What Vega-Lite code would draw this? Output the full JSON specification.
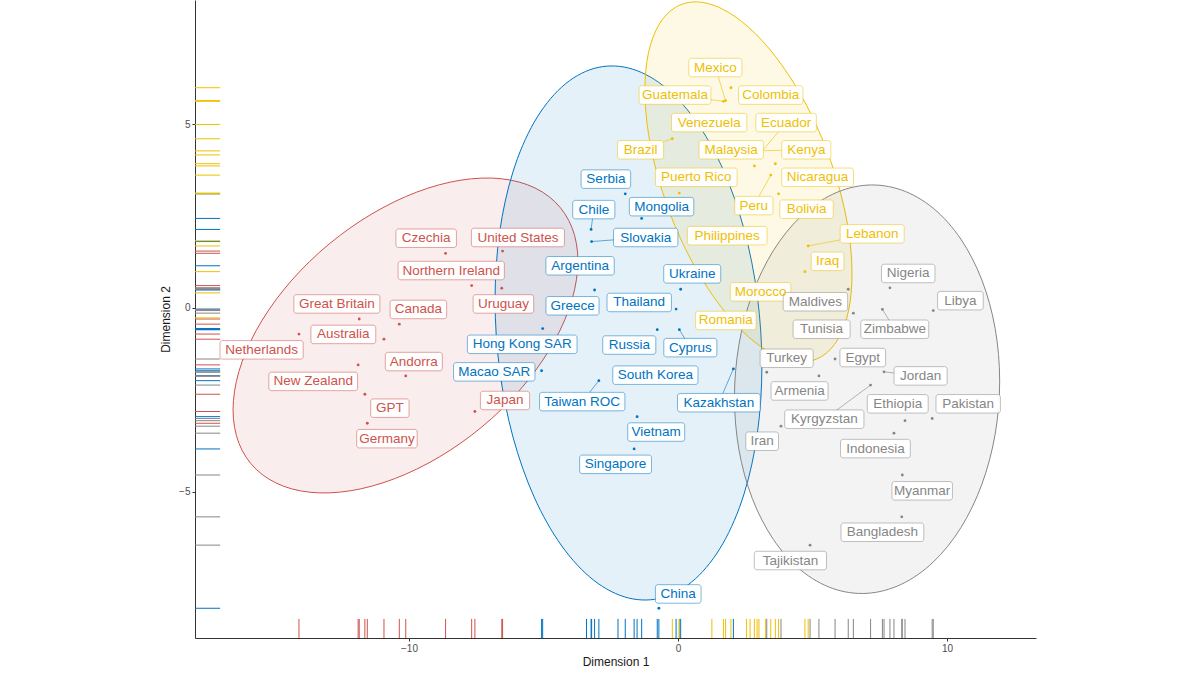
{
  "$schema": "https://vega.github.io/schema/vega-lite/v6.json",
  "width": 841,
  "height": 638,
  "autosize": {"type": "none"},
  "padding": {"left": 195, "top": 0, "right": 164, "bottom": 39},
  "background": "white",
  "config": {
    "view": {"stroke": null},
    "axis": {
      "grid": false,
      "domainColor": "#333333",
      "tickColor": "#333333",
      "tickSize": 3,
      "labelColor": "#4D4D4D",
      "labelFont": "Liberation Sans",
      "labelFontSize": 10,
      "labelPadding": 2,
      "titleFont": "Liberation Sans",
      "titleFontSize": 12,
      "titleFontWeight": "normal",
      "titleColor": "#1A1A1A"
    }
  },
  "datasets": {
    "pts": [
      {"n": "Czechia", "g": "1", "x": -8.64, "y": 1.49, "lx": -9.36, "ly": 1.90},
      {"n": "United States", "g": "1", "x": -6.52, "y": 1.55, "lx": -5.95, "ly": 1.92},
      {"n": "Northern Ireland", "g": "1", "x": -7.67, "y": 0.61, "lx": -8.43, "ly": 1.02},
      {"n": "Uruguay", "g": "1", "x": -6.55, "y": 0.54, "lx": -6.49, "ly": 0.11},
      {"n": "Great Britain", "g": "1", "x": -11.85, "y": -0.30, "lx": -12.68, "ly": 0.11},
      {"n": "Canada", "g": "1", "x": -10.36, "y": -0.44, "lx": -9.65, "ly": -0.04},
      {"n": "Australia", "g": "1", "x": -10.93, "y": -0.85, "lx": -12.44, "ly": -0.72},
      {"n": "Netherlands", "g": "1", "x": -14.09, "y": -0.71, "lx": -15.48, "ly": -1.14},
      {"n": "Andorra", "g": "1", "x": -10.12, "y": -1.85, "lx": -9.82, "ly": -1.46},
      {"n": "New Zealand", "g": "1", "x": -11.89, "y": -1.55, "lx": -13.56, "ly": -2.00},
      {"n": "GPT", "g": "1", "x": -11.64, "y": -2.35, "lx": -10.71, "ly": -2.73},
      {"n": "Germany", "g": "1", "x": -11.55, "y": -3.14, "lx": -10.82, "ly": -3.56},
      {"n": "Japan", "g": "1", "x": -7.55, "y": -2.82, "lx": -6.43, "ly": -2.52},
      {"n": "Serbia", "g": "2", "x": -1.96, "y": 3.11, "lx": -2.68, "ly": 3.51},
      {"n": "Chile", "g": "2", "x": -3.23, "y": 2.14, "lx": -3.13, "ly": 2.68},
      {"n": "Mongolia", "g": "2", "x": -1.35, "y": 2.44, "lx": -0.61, "ly": 2.76},
      {"n": "Slovakia", "g": "2", "x": -3.21, "y": 1.81, "lx": -1.20, "ly": 1.92},
      {"n": "Argentina", "g": "2", "x": -3.40, "y": 1.15, "lx": -3.64, "ly": 1.15},
      {"n": "Ukraine", "g": "2", "x": 0.10, "y": 0.51, "lx": 0.53, "ly": 0.93},
      {"n": "Greece", "g": "2", "x": -3.10, "y": 0.49, "lx": -3.92, "ly": 0.06},
      {"n": "Thailand", "g": "2", "x": -0.07, "y": -0.03, "lx": -1.44, "ly": 0.15},
      {"n": "Hong Kong SAR", "g": "2", "x": -5.03, "y": -0.56, "lx": -5.79, "ly": -0.99},
      {"n": "Russia", "g": "2", "x": -0.77, "y": -0.59, "lx": -1.81, "ly": -1.01},
      {"n": "Cyprus", "g": "2", "x": 0.05, "y": -0.59, "lx": 0.46, "ly": -1.08},
      {"n": "Macao SAR", "g": "2", "x": -5.07, "y": -1.71, "lx": -6.83, "ly": -1.74},
      {"n": "South Korea", "g": "2", "x": -2.23, "y": -1.85, "lx": -0.84, "ly": -1.83},
      {"n": "Taiwan ROC", "g": "2", "x": -2.94, "y": -1.98, "lx": -3.56, "ly": -2.55},
      {"n": "Kazakhstan", "g": "2", "x": 2.06, "y": -1.66, "lx": 1.52, "ly": -2.58},
      {"n": "Vietnam", "g": "2", "x": -1.52, "y": -2.96, "lx": -0.81, "ly": -3.38},
      {"n": "Singapore", "g": "2", "x": -1.63, "y": -3.84, "lx": -2.32, "ly": -4.26},
      {"n": "China", "g": "2", "x": -0.71, "y": -8.18, "lx": 0.01, "ly": -7.79},
      {"n": "Mexico", "g": "3", "x": 1.77, "y": 5.65, "lx": 1.39, "ly": 6.55},
      {"n": "Guatemala", "g": "3", "x": 1.69, "y": 5.63, "lx": -0.11, "ly": 5.80},
      {"n": "Colombia", "g": "3", "x": 1.97, "y": 6.00, "lx": 3.45, "ly": 5.80},
      {"n": "Venezuela", "g": "3", "x": 1.26, "y": 5.00, "lx": 1.16, "ly": 5.05},
      {"n": "Ecuador", "g": "3", "x": 3.01, "y": 4.17, "lx": 4.02, "ly": 5.05},
      {"n": "Brazil", "g": "3", "x": -0.21, "y": 4.61, "lx": -1.39, "ly": 4.31},
      {"n": "Malaysia", "g": "3", "x": 2.84, "y": 3.87, "lx": 1.98, "ly": 4.31},
      {"n": "Kenya", "g": "3", "x": 2.94, "y": 4.28, "lx": 4.77, "ly": 4.31},
      {"n": "Puerto Rico", "g": "3", "x": 0.05, "y": 3.13, "lx": 0.68, "ly": 3.56},
      {"n": "Nicaragua", "g": "3", "x": 3.62, "y": 3.93, "lx": 5.19, "ly": 3.56},
      {"n": "Peru", "g": "3", "x": 3.45, "y": 3.62, "lx": 2.82, "ly": 2.79},
      {"n": "Bolivia", "g": "3", "x": 3.74, "y": 3.11, "lx": 4.78, "ly": 2.69},
      {"n": "Philippines", "g": "3", "x": 3.26, "y": 1.83, "lx": 1.83, "ly": 1.97},
      {"n": "Lebanon", "g": "3", "x": 4.84, "y": 1.69, "lx": 7.22, "ly": 2.02},
      {"n": "Iraq", "g": "3", "x": 4.72, "y": 0.99, "lx": 5.56, "ly": 1.27},
      {"n": "Morocco", "g": "3", "x": 2.55, "y": 0.41, "lx": 3.07, "ly": 0.44},
      {"n": "Romania", "g": "3", "x": 2.68, "y": -0.27, "lx": 1.78, "ly": -0.34},
      {"n": "Nigeria", "g": "4", "x": 7.88, "y": 0.55, "lx": 8.56, "ly": 0.94},
      {"n": "Libya", "g": "4", "x": 9.49, "y": -0.07, "lx": 10.50, "ly": 0.20},
      {"n": "Maldives", "g": "4", "x": 6.33, "y": 0.51, "lx": 5.11, "ly": 0.17},
      {"n": "Tunisia", "g": "4", "x": 6.52, "y": -0.14, "lx": 5.34, "ly": -0.58},
      {"n": "Zimbabwe", "g": "4", "x": 7.60, "y": -0.04, "lx": 8.06, "ly": -0.58},
      {"n": "Turkey", "g": "4", "x": 3.30, "y": -1.75, "lx": 4.04, "ly": -1.37},
      {"n": "Egypt", "g": "4", "x": 5.84, "y": -1.39, "lx": 6.87, "ly": -1.35},
      {"n": "Armenia", "g": "4", "x": 5.24, "y": -1.85, "lx": 4.52, "ly": -2.26},
      {"n": "Jordan", "g": "4", "x": 7.66, "y": -1.74, "lx": 9.02, "ly": -1.85},
      {"n": "Ethiopia", "g": "4", "x": 8.44, "y": -3.07, "lx": 8.17, "ly": -2.61},
      {"n": "Pakistan", "g": "4", "x": 9.45, "y": -3.01, "lx": 10.79, "ly": -2.61},
      {"n": "Kyrgyzstan", "g": "4", "x": 7.16, "y": -2.10, "lx": 5.44, "ly": -3.03},
      {"n": "Iran", "g": "4", "x": 3.83, "y": -3.22, "lx": 3.13, "ly": -3.63},
      {"n": "Indonesia", "g": "4", "x": 8.03, "y": -3.41, "lx": 7.34, "ly": -3.83},
      {"n": "Myanmar", "g": "4", "x": 8.34, "y": -4.55, "lx": 9.08, "ly": -4.98},
      {"n": "Bangladesh", "g": "4", "x": 8.32, "y": -5.69, "lx": 7.60, "ly": -6.11},
      {"n": "Tajikistan", "g": "4", "x": 4.91, "y": -6.46, "lx": 4.18, "ly": -6.88}
    ],
    "ell": [
      {"g": "1", "i": 0, "x": -3.72, "y": 1.278},
      {"g": "1", "i": 1, "x": -3.938, "y": 2.187},
      {"g": "1", "i": 2, "x": -4.579, "y": 2.897},
      {"g": "1", "i": 3, "x": -5.597, "y": 3.358},
      {"g": "1", "i": 4, "x": -6.925, "y": 3.539},
      {"g": "1", "i": 5, "x": -8.471, "y": 3.428},
      {"g": "1", "i": 6, "x": -10.13, "y": 3.032},
      {"g": "1", "i": 7, "x": -11.789, "y": 2.378},
      {"g": "1", "i": 8, "x": -13.335, "y": 1.512},
      {"g": "1", "i": 9, "x": -14.663, "y": 0.492},
      {"g": "1", "i": 10, "x": -15.681, "y": -0.614},
      {"g": "1", "i": 11, "x": -16.322, "y": -1.729},
      {"g": "1", "i": 12, "x": -16.54, "y": -2.776},
      {"g": "1", "i": 13, "x": -16.322, "y": -3.685},
      {"g": "1", "i": 14, "x": -15.681, "y": -4.395},
      {"g": "1", "i": 15, "x": -14.663, "y": -4.856},
      {"g": "1", "i": 16, "x": -13.335, "y": -5.037},
      {"g": "1", "i": 17, "x": -11.789, "y": -4.926},
      {"g": "1", "i": 18, "x": -10.13, "y": -4.53},
      {"g": "1", "i": 19, "x": -8.471, "y": -3.876},
      {"g": "1", "i": 20, "x": -6.925, "y": -3.01},
      {"g": "1", "i": 21, "x": -5.597, "y": -1.99},
      {"g": "1", "i": 22, "x": -4.579, "y": -0.884},
      {"g": "1", "i": 23, "x": -3.938, "y": 0.231},
      {"g": "2", "i": 0, "x": 3.12, "y": -1.58},
      {"g": "2", "i": 1, "x": 2.951, "y": 0.319},
      {"g": "2", "i": 2, "x": 2.455, "y": 2.15},
      {"g": "2", "i": 3, "x": 1.667, "y": 3.788},
      {"g": "2", "i": 4, "x": 0.64, "y": 5.121},
      {"g": "2", "i": 5, "x": -0.556, "y": 6.059},
      {"g": "2", "i": 6, "x": -1.84, "y": 6.538},
      {"g": "2", "i": 7, "x": -3.124, "y": 6.525},
      {"g": "2", "i": 8, "x": -4.32, "y": 6.02},
      {"g": "2", "i": 9, "x": -5.347, "y": 5.059},
      {"g": "2", "i": 10, "x": -6.135, "y": 3.707},
      {"g": "2", "i": 11, "x": -6.631, "y": 2.055},
      {"g": "2", "i": 12, "x": -6.8, "y": 0.218},
      {"g": "2", "i": 13, "x": -6.631, "y": -1.681},
      {"g": "2", "i": 14, "x": -6.135, "y": -3.512},
      {"g": "2", "i": 15, "x": -5.347, "y": -5.15},
      {"g": "2", "i": 16, "x": -4.32, "y": -6.483},
      {"g": "2", "i": 17, "x": -3.124, "y": -7.421},
      {"g": "2", "i": 18, "x": -1.84, "y": -7.9},
      {"g": "2", "i": 19, "x": -0.556, "y": -7.887},
      {"g": "2", "i": 20, "x": 0.64, "y": -7.382},
      {"g": "2", "i": 21, "x": 1.667, "y": -6.421},
      {"g": "2", "i": 22, "x": 2.455, "y": -5.069},
      {"g": "2", "i": 23, "x": 2.951, "y": -3.417},
      {"g": "3", "i": 0, "x": 6.47, "y": 0.929},
      {"g": "3", "i": 1, "x": 6.339, "y": 2.106},
      {"g": "3", "i": 2, "x": 5.954, "y": 3.374},
      {"g": "3", "i": 3, "x": 5.342, "y": 4.645},
      {"g": "3", "i": 4, "x": 4.545, "y": 5.834},
      {"g": "3", "i": 5, "x": 3.616, "y": 6.859},
      {"g": "3", "i": 6, "x": 2.62, "y": 7.651},
      {"g": "3", "i": 7, "x": 1.624, "y": 8.155},
      {"g": "3", "i": 8, "x": 0.695, "y": 8.338},
      {"g": "3", "i": 9, "x": -0.102, "y": 8.186},
      {"g": "3", "i": 10, "x": -0.714, "y": 7.711},
      {"g": "3", "i": 11, "x": -1.099, "y": 6.944},
      {"g": "3", "i": 12, "x": -1.23, "y": 5.937},
      {"g": "3", "i": 13, "x": -1.099, "y": 4.76},
      {"g": "3", "i": 14, "x": -0.714, "y": 3.493},
      {"g": "3", "i": 15, "x": -0.102, "y": 2.221},
      {"g": "3", "i": 16, "x": 0.695, "y": 1.032},
      {"g": "3", "i": 17, "x": 1.624, "y": 0.007},
      {"g": "3", "i": 18, "x": 2.62, "y": -0.785},
      {"g": "3", "i": 19, "x": 3.616, "y": -1.289},
      {"g": "3", "i": 20, "x": 4.545, "y": -1.472},
      {"g": "3", "i": 21, "x": 5.342, "y": -1.32},
      {"g": "3", "i": 22, "x": 5.954, "y": -0.845},
      {"g": "3", "i": 23, "x": 6.339, "y": -0.078},
      {"g": "4", "i": 0, "x": 11.96, "y": -1.99},
      {"g": "4", "i": 1, "x": 11.792, "y": -0.559},
      {"g": "4", "i": 2, "x": 11.299, "y": 0.76},
      {"g": "4", "i": 3, "x": 10.516, "y": 1.876},
      {"g": "4", "i": 4, "x": 9.495, "y": 2.714},
      {"g": "4", "i": 5, "x": 8.306, "y": 3.215},
      {"g": "4", "i": 6, "x": 7.03, "y": 3.347},
      {"g": "4", "i": 7, "x": 5.754, "y": 3.1},
      {"g": "4", "i": 8, "x": 4.565, "y": 2.491},
      {"g": "4", "i": 9, "x": 3.544, "y": 1.561},
      {"g": "4", "i": 10, "x": 2.761, "y": 0.374},
      {"g": "4", "i": 11, "x": 2.268, "y": -0.99},
      {"g": "4", "i": 12, "x": 2.1, "y": -2.436},
      {"g": "4", "i": 13, "x": 2.268, "y": -3.867},
      {"g": "4", "i": 14, "x": 2.761, "y": -5.186},
      {"g": "4", "i": 15, "x": 3.544, "y": -6.302},
      {"g": "4", "i": 16, "x": 4.565, "y": -7.14},
      {"g": "4", "i": 17, "x": 5.754, "y": -7.641},
      {"g": "4", "i": 18, "x": 7.03, "y": -7.773},
      {"g": "4", "i": 19, "x": 8.306, "y": -7.526},
      {"g": "4", "i": 20, "x": 9.495, "y": -6.917},
      {"g": "4", "i": 21, "x": 10.516, "y": -5.987},
      {"g": "4", "i": 22, "x": 11.299, "y": -4.8},
      {"g": "4", "i": 23, "x": 11.792, "y": -3.436}
    ]
  },
  "layer": [
    {
      "data": {"name": "ell"},
      "transform": [{"filter": "datum.g == '1'"}],
      "mark": {"type": "line", "interpolate": "cardinal-closed", "fill": "#CD534C", "fillOpacity": 0.1, "stroke": "#CD534C", "strokeWidth": 1},
      "encoding": {
        "x": {"field": "x", "type": "quantitative", "scale": {"domain": [-17.955, 13.31], "nice": false, "zero": false}, "axis": {"values": [-10, 0, 10], "title": "Dimension 1", "titlePadding": 3}},
        "y": {"field": "y", "type": "quantitative", "scale": {"domain": [-8.99, 8.39], "nice": false, "zero": false}, "axis": {"values": [-5, 0, 5], "title": "Dimension 2", "titlePadding": 6}},
        "order": {"field": "i", "type": "quantitative"}
      }
    },
    {
      "data": {"name": "ell"},
      "transform": [{"filter": "datum.g == '2'"}],
      "mark": {"type": "line", "interpolate": "cardinal-closed", "fill": "#0073C2", "fillOpacity": 0.1, "stroke": "#0073C2", "strokeWidth": 1},
      "encoding": {
        "x": {"field": "x", "type": "quantitative", "axis": {"values": [-10, 0, 10], "title": "Dimension 1", "titlePadding": 3}},
        "y": {"field": "y", "type": "quantitative", "axis": {"values": [-5, 0, 5], "title": "Dimension 2", "titlePadding": 6}},
        "order": {"field": "i", "type": "quantitative"}
      }
    },
    {
      "data": {"name": "ell"},
      "transform": [{"filter": "datum.g == '3'"}],
      "mark": {"type": "line", "interpolate": "cardinal-closed", "fill": "#EFC000", "fillOpacity": 0.1, "stroke": "#EFC000", "strokeWidth": 1},
      "encoding": {
        "x": {"field": "x", "type": "quantitative", "axis": {"values": [-10, 0, 10], "title": "Dimension 1", "titlePadding": 3}},
        "y": {"field": "y", "type": "quantitative", "axis": {"values": [-5, 0, 5], "title": "Dimension 2", "titlePadding": 6}},
        "order": {"field": "i", "type": "quantitative"}
      }
    },
    {
      "data": {"name": "ell"},
      "transform": [{"filter": "datum.g == '4'"}],
      "mark": {"type": "line", "interpolate": "cardinal-closed", "fill": "#868686", "fillOpacity": 0.1, "stroke": "#868686", "strokeWidth": 1},
      "encoding": {
        "x": {"field": "x", "type": "quantitative", "axis": {"values": [-10, 0, 10], "title": "Dimension 1", "titlePadding": 3}},
        "y": {"field": "y", "type": "quantitative", "axis": {"values": [-5, 0, 5], "title": "Dimension 2", "titlePadding": 6}},
        "order": {"field": "i", "type": "quantitative"}
      }
    },
    {
      "data": {"name": "pts"},
      "mark": {"type": "rule", "strokeWidth": 1},
      "encoding": {
        "x": {"field": "x", "type": "quantitative", "axis": {"values": [-10, 0, 10], "title": "Dimension 1", "titlePadding": 3}},
        "y": {"datum": -8.99, "type": "quantitative", "axis": {"values": [-5, 0, 5], "title": "Dimension 2", "titlePadding": 6}},
        "y2": {"datum": -8.47},
        "color": {"field": "g", "type": "nominal", "scale": {"domain": ["1", "2", "3", "4"], "range": ["#CD534C", "#0073C2", "#EFC000", "#868686"]}, "legend": null}
      }
    },
    {
      "data": {"name": "pts"},
      "mark": {"type": "rule", "strokeWidth": 1},
      "encoding": {
        "y": {"field": "y", "type": "quantitative", "axis": {"values": [-5, 0, 5], "title": "Dimension 2", "titlePadding": 6}},
        "x": {"datum": -17.955, "type": "quantitative", "axis": {"values": [-10, 0, 10], "title": "Dimension 1", "titlePadding": 3}},
        "x2": {"datum": -17.02},
        "color": {"field": "g", "type": "nominal", "legend": null}
      }
    },
    {
      "data": {"name": "pts"},
      "transform": [{"filter": "max(abs(datum.lx-datum.x)*26.9 - (13.5*(0.55*length(datum.n)-0.26*length(replace(datum.n,regexp('[^iljtfrI ]','g'),''))+0.15*length(replace(datum.n,regexp('[^A-HJ-Z]','g'),'')))+10)/2, abs(datum.ly-datum.y)*36.7 - 9.25) > 8.5"}],
      "mark": {"type": "rule", "strokeWidth": 0.6},
      "encoding": {
        "x": {"field": "x", "type": "quantitative", "axis": {"values": [-10, 0, 10], "title": "Dimension 1", "titlePadding": 3}},
        "y": {"field": "y", "type": "quantitative", "axis": {"values": [-5, 0, 5], "title": "Dimension 2", "titlePadding": 6}},
        "x2": {"field": "lx"},
        "y2": {"field": "ly"},
        "color": {"field": "g", "type": "nominal", "legend": null}
      }
    },
    {
      "data": {"name": "pts"},
      "mark": {"type": "circle", "size": 8, "opacity": 1},
      "encoding": {
        "x": {"field": "x", "type": "quantitative", "axis": {"values": [-10, 0, 10], "title": "Dimension 1", "titlePadding": 3}},
        "y": {"field": "y", "type": "quantitative", "axis": {"values": [-5, 0, 5], "title": "Dimension 2", "titlePadding": 6}},
        "color": {"field": "g", "type": "nominal", "legend": null}
      }
    },
    {
      "data": {"name": "pts"},
      "mark": {"type": "rect", "fill": "white", "fillOpacity": 0.95, "strokeWidth": 1, "strokeOpacity": 0.5, "cornerRadius": 2.5, "height": 18.5,
        "width": {"expr": "13.5*(0.55*length(datum.n)-0.26*length(replace(datum.n,regexp('[^iljtfrI ]','g'),''))+0.15*length(replace(datum.n,regexp('[^A-HJ-Z]','g'),'')))+10"}},
      "encoding": {
        "x": {"field": "lx", "type": "quantitative", "axis": {"values": [-10, 0, 10], "title": "Dimension 1", "titlePadding": 3}},
        "y": {"field": "ly", "type": "quantitative", "axis": {"values": [-5, 0, 5], "title": "Dimension 2", "titlePadding": 6}},
        "stroke": {"field": "g", "type": "nominal", "scale": {"domain": ["1", "2", "3", "4"], "range": ["#CD534C", "#0073C2", "#EFC000", "#868686"]}, "legend": null}
      }
    },
    {
      "data": {"name": "pts"},
      "mark": {"type": "text", "font": "Liberation Sans", "fontSize": 13.5, "align": "center", "baseline": "middle"},
      "encoding": {
        "x": {"field": "lx", "type": "quantitative", "axis": {"values": [-10, 0, 10], "title": "Dimension 1", "titlePadding": 3}},
        "y": {"field": "ly", "type": "quantitative", "axis": {"values": [-5, 0, 5], "title": "Dimension 2", "titlePadding": 6}},
        "text": {"field": "n", "type": "nominal"},
        "color": {"field": "g", "type": "nominal", "legend": null}
      }
    }
  ]
}
